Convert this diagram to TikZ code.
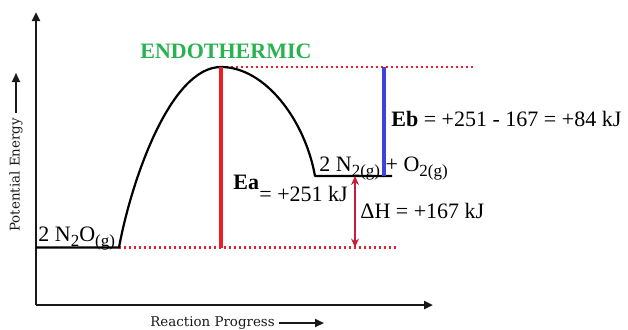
\documentclass[tikz,border=0pt]{standalone}
\usepackage{fontspec}
\setmainfont{Liberation Serif}
\newfontfamily\axisfont{DejaVu Serif}
\usetikzlibrary{arrows.meta}
\newcommand\sbs[1]{\raisebox{-2.6pt}{\fontsize{8.5}{8.5}\selectfont #1}}
\definecolor{endogreen}{RGB}{40,178,80}
\definecolor{eared}{RGB}{236,28,36}
\definecolor{ebblue}{RGB}{66,66,214}
\definecolor{dhred}{RGB}{196,30,58}
\definecolor{dotred}{RGB}{232,30,50}
\tikzset{
  axisline/.style={line width=1.2pt,draw=black!90,-{Triangle[length=4.5pt,width=4pt]}},
  curveline/.style={line width=1.1pt,black},
  dotline/.style={line width=1.2pt,dotred,dash pattern=on 1.1pt off 1.4pt},
  lbl/.style={inner sep=0pt,anchor=base west,font=\fontsize{11}{11}\selectfont},
  axlbl/.style={inner sep=0pt,font=\axisfont\fontsize{6.7}{6.7}\selectfont,text=black!90},
}
\begin{document}
\begin{tikzpicture}[x=0.5pt,y=-0.5pt]
\useasboundingbox (0,0) rectangle (628,329);
% key points
\coordinate (origin) at (36,305);
\coordinate (ytop) at (36,12);
\coordinate (xend) at (433,305);
\coordinate (rl) at (36,247.5);
\coordinate (rr) at (119,247.5);
\coordinate (peak) at (221,67);
\coordinate (pl) at (315,176);
\coordinate (pr) at (392,176);
\coordinate (topdotend) at (473,67);
\coordinate (botdotend) at (397,247.5);
\coordinate (eabot) at (221,247.5);
\coordinate (ebtop) at (384,67);
\coordinate (ebbot) at (384,176);
\coordinate (dhtop) at (355,176);
\coordinate (dhbot) at (355,247.5);
% axes
\draw[axisline] (origin) -- (ytop);
\draw[axisline] (origin) -- (xend);
% dotted guide lines
\draw[dotline] (peak) -- (topdotend);
\draw[dotline] (rr) -- (botdotend);
% energy curve
\draw[curveline,line join=round] (rl) -- (rr) .. controls (131,182) and (170,67) .. (peak)
   .. controls (265,67) and (305,120) .. (pl) -- (pr);
% Ea and Eb lines
\draw[line width=2pt,eared] (peak) -- (eabot);
\draw[line width=2pt,ebblue] (ebtop) -- (ebbot);
% Delta H arrow
\draw[line width=0.8pt,dhred,{Stealth[length=4.5pt,width=4pt]}-{Stealth[length=4.5pt,width=4pt]}] (dhtop) -- (dhbot);
% labels
\node[lbl,text=endogreen,font=\fontsize{11}{11}\selectfont\bfseries] (endo) at (140,58) {ENDOTHERMIC};
\node[lbl] (eb) at (391,126) {\textbf{Eb} = +251 - 167 = +84 kJ};
\node[lbl] (prod) at (319,171) {2 N\sbs{2(g)} + O\sbs{2(g)}};
\node[lbl] (ea) at (233,189) {\textbf{Ea}};
\node[lbl] (eaval) at (259,201.5) {= +251 kJ};
\node[lbl] (dh) at (360,218) {ΔH = +167 kJ};
\node[lbl] (react) at (38,241) {2 N\sbs{2}O\sbs{(g)}};
% axis labels
\node[axlbl,anchor=base west] (xlab) at (150,326) {Reaction Progress};
\coordinate (xarrs) at (279,323);
\coordinate (xarre) at (324,323);
\draw[line width=0.9pt,black!90,-{Triangle[length=4.5pt,width=4pt]}] (xarrs) -- (xarre);
\node[axlbl,rotate=90,anchor=base west] (ylab) at (19.5,232) {Potential Energy};
\coordinate (yarrs) at (16,113);
\coordinate (yarre) at (16,73);
\draw[line width=0.9pt,black!90,-{Triangle[length=4.5pt,width=4pt]}] (yarrs) -- (yarre);
\end{tikzpicture}
\end{document}
